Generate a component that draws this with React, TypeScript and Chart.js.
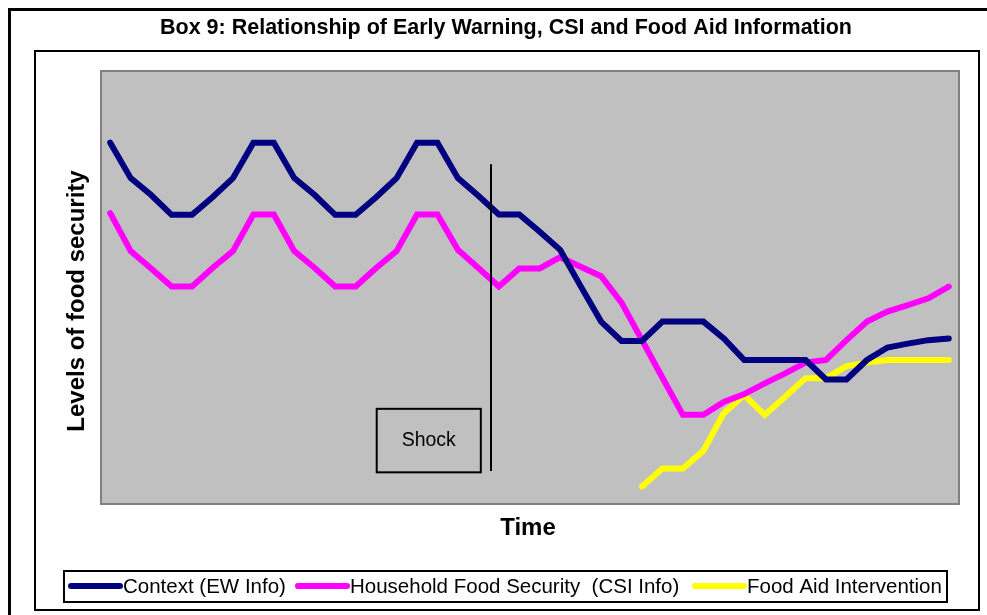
import React, { useEffect, useRef } from "react";
import { Chart, registerables } from "chart.js";

Chart.register(...registerables);

const TITLE = "Box 9: Relationship of Early Warning, CSI and Food Aid Information";
const X_TITLE = "Time";
const Y_TITLE = "Levels of food security";
const SHOCK_LABEL = "Shock";

const periods: string[] = Array.from({ length: 42 }, (_, i) => String(i + 1));

const contextEW: number[] = [
  83.4, 75.2, 71.3, 66.7, 66.7, 70.8, 75.2, 83.4, 83.4, 75.2,
  71.3, 66.7, 66.7, 70.8, 75.2, 83.4, 83.4, 75.2, 71.1, 66.8,
  66.8, 62.8, 58.6, 50.2, 42.0, 37.5, 37.5, 42.0, 42.0, 42.0,
  38.1, 33.1, 33.1, 33.1, 33.1, 28.6, 28.6, 33.1, 36.0, 36.9,
  37.7, 38.1,
];

const householdCSI: number[] = [
  67.1, 58.3, 54.3, 50.1, 50.1, 54.4, 58.3, 66.8, 66.8, 58.3,
  54.4, 50.1, 50.1, 54.4, 58.3, 66.8, 66.8, 58.6, 54.4, 50.1,
  54.3, 54.3, 56.9, 54.7, 52.5, 46.4, 37.7, 29.0, 20.4, 20.4,
  23.4, 25.2, 27.7, 30.0, 32.5, 33.1, 37.7, 42.0, 44.3, 45.8,
  47.4, 50.1,
];

const foodAid: (number | null)[] = [
  null, null, null, null, null, null, null, null, null, null,
  null, null, null, null, null, null, null, null, null, null,
  null, null, null, null, null, null, 3.8, 8.0, 8.0, 12.1,
  20.8, 25.0, 20.4, 24.6, 28.9, 28.9, 31.7, 32.5, 33.1, 33.1,
  33.1, 33.1,
];

const seriesNames = ["Context (EW Info)", "Household Food Security  (CSI Info)", "Food Aid Intervention"];
const seriesColors = ["#000080", "#FF00FF", "#FFFF00"];

// Shock marker (category index / value units)
const shockLineIndex = 18.6;
const shockLineRange = [7.4, 78.4];
const shockBoxIndex = [13.03, 18.12];
const shockBoxRange = [7.1, 21.8];

const FONT = "'Liberation Sans', Arial, sans-serif";

const framePlugin = {
  id: "frame",
  beforeDraw(chart: any) {
    const { ctx, width, height, chartArea } = chart;
    ctx.save();
    ctx.fillStyle = "#ffffff";
    ctx.fillRect(0, 0, width, height);
    // outer page border
    ctx.strokeStyle = "#000000";
    ctx.lineWidth = 3;
    ctx.beginPath();
    ctx.moveTo(9.5, height);
    ctx.lineTo(9.5, 9.5);
    ctx.lineTo(width, 9.5);
    ctx.stroke();
    // inner chart border
    ctx.lineWidth = 2;
    ctx.strokeRect(35, 51, 944, 559);
    // plot area
    ctx.fillStyle = "#C0C0C0";
    ctx.fillRect(chartArea.left, chartArea.top, chartArea.right - chartArea.left, chartArea.bottom - chartArea.top);
    ctx.strokeStyle = "#808080";
    ctx.lineWidth = 2;
    ctx.strokeRect(chartArea.left + 1, chartArea.top, chartArea.right - chartArea.left - 1, chartArea.bottom - chartArea.top + 1);
    ctx.restore();
  },
  afterDatasetsDraw(chart: any) {
    const { ctx } = chart;
    const xs = chart.scales.x;
    const ys = chart.scales.y;
    ctx.save();
    ctx.strokeStyle = "#000000";
    // shock line
    ctx.lineWidth = 2;
    const lx = Math.round(xs.getPixelForValue(shockLineIndex));
    ctx.beginPath();
    ctx.moveTo(lx, ys.getPixelForValue(shockLineRange[1]));
    ctx.lineTo(lx, ys.getPixelForValue(shockLineRange[0]));
    ctx.stroke();
    // shock box
    const bx0 = xs.getPixelForValue(shockBoxIndex[0]);
    const bx1 = xs.getPixelForValue(shockBoxIndex[1]);
    const by0 = ys.getPixelForValue(shockBoxRange[1]);
    const by1 = ys.getPixelForValue(shockBoxRange[0]);
    ctx.strokeRect(bx0, by0, bx1 - bx0, by1 - by0);
    ctx.fillStyle = "#000000";
    ctx.font = `19.5px ${FONT}`;
    ctx.textAlign = "center";
    ctx.textBaseline = "middle";
    ctx.fillText(SHOCK_LABEL, (bx0 + bx1) / 2, (by0 + by1) / 2);
    ctx.restore();
  },
  afterDraw(chart: any) {
    const { ctx, chartArea } = chart;
    ctx.save();
    ctx.fillStyle = "#000000";
    ctx.textBaseline = "middle";
    ctx.textAlign = "center";
    // title
    ctx.font = `bold 21.5px ${FONT}`;
    ctx.fillText(TITLE, 506, 28);
    // x title
    ctx.font = `bold 24px ${FONT}`;
    ctx.fillText(X_TITLE, 528, 528);
    // y title
    ctx.save();
    ctx.translate(77, (chartArea.top + chartArea.bottom) / 2 + 14);
    ctx.rotate(-Math.PI / 2);
    ctx.fillText(Y_TITLE, 0, 0);
    ctx.restore();
    // legend
    ctx.strokeStyle = "#000000";
    ctx.lineWidth = 2;
    ctx.strokeRect(64, 571, 883, 31);
    const starts = [71, 298, 695];
    ctx.font = `20.5px ${FONT}`;
    ctx.textAlign = "left";
    chart.data.datasets.forEach((ds: any, i: number) => {
      const sx = starts[i];
      ctx.strokeStyle = ds.borderColor;
      ctx.lineWidth = 6;
      ctx.lineCap = "round";
      ctx.beginPath();
      ctx.moveTo(sx, 586);
      ctx.lineTo(sx + 49, 586);
      ctx.stroke();
      ctx.fillStyle = "#000000";
      ctx.fillText(ds.label, sx + 52, 587);
    });
    ctx.restore();
  },
};

export default function App() {
  const ref = useRef<HTMLCanvasElement | null>(null);
  useEffect(() => {
    if (!ref.current) return;
    const mk = (i: number, data: (number | null)[]) => ({
      label: seriesNames[i],
      data,
      borderColor: seriesColors[i],
      backgroundColor: seriesColors[i],
      borderWidth: 6,
      borderCapStyle: "round",
      borderJoinStyle: "miter",
      pointRadius: 0,
      pointHoverRadius: 0,
      tension: 0,
      spanGaps: false,
      fill: false,
    });
    const chart = new Chart(ref.current, {
      type: "line",
      data: {
        labels: periods,
        datasets: [mk(0, contextEW), mk(1, householdCSI), mk(2, foodAid)] as any,
      },
      options: {
        animation: false,
        responsive: false,
        maintainAspectRatio: false,
        layout: { padding: { left: 100, right: 28, top: 71, bottom: 112 } },
        plugins: { legend: { display: false }, title: { display: false }, tooltip: { enabled: false } },
        scales: {
          x: { type: "category", offset: true, display: false },
          y: { type: "linear", min: 0, max: 100, display: false },
        },
      },
      plugins: [framePlugin],
    });
    return () => chart.destroy();
  }, []);
  return (
    <div style={{ position: "absolute", left: 0, top: 0, width: 987, height: 615 }}>
      <canvas ref={ref} width={987} height={615} style={{ width: 987, height: 615, display: "block" }} />
    </div>
  );
}
